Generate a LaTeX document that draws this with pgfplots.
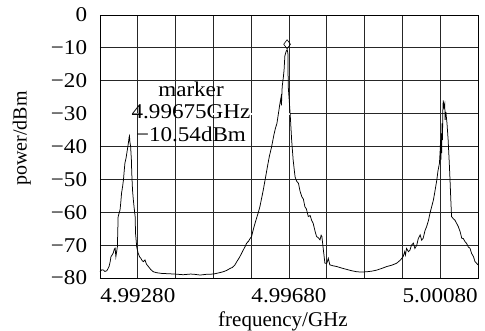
\documentclass[border=0pt]{standalone}
\usepackage{fontspec}
\setmainfont{Liberation Serif}
\newfontfamily\widefont{Liberation Serif}[FakeStretch=1.1]
\usepackage{pgfplots}
\pgfplotsset{compat=1.18}
\begin{document}
\begin{tikzpicture}
\begin{axis}[
  scale only axis, width=378pt, height=263pt,
  at={(0pt,0pt)}, anchor=south west,
  xmin=0, xmax=10, ymin=-80, ymax=0,
  xtick={0,1,2,3,4,5,6,7,8,9,10},
  xticklabels={,4.99280,,,,4.99680,,,,5.00080,},
  ytick={-80,-70,-60,-50,-40,-30,-20,-10,0},
  yticklabels={−80,−70,−60,−50,−40,−30,−20,−10,0},
  major tick length=0pt,
  grid=major, major grid style={black!85, line width=0.8pt},
  axis line style={line width=0.9pt},
  tick label style={font=\widefont\fontsize{21}{25}\selectfont},
  xticklabel style={anchor=base, inner sep=0pt, yshift=-25pt},
  yticklabel style={anchor=east, inner sep=0pt, xshift=-12.7pt},
  xlabel={frequency/GHz}, ylabel={power/dBm},
  xlabel style={at={(axis description cs:0.484,-0.185)}, anchor=base, font=\fontsize{21}{25}\selectfont},
  ylabel style={at={(axis description cs:-0.194,0.531)}, anchor=base, font=\fontsize{20}{24}\selectfont},
]
\draw[white, line width=1.8pt] (axis cs:0.03,-30) -- (axis cs:5.02,-30);
\addplot[black, line width=0.75pt] table[x=x, y=y] {
x y
0.00 -78.1
0.05 -77.5
0.09 -77.6
0.13 -78.0
0.18 -77.8
0.21 -77.2
0.24 -76.5
0.27 -75.0
0.29 -73.5
0.32 -73.0
0.35 -72.4
0.38 -71.2
0.40 -70.9
0.42 -73.5
0.44 -72.0
0.46 -70.5
0.48 -61.3
0.50 -60.5
0.53 -59.3
0.55 -57.0
0.57 -54.2
0.60 -52.0
0.62 -50.2
0.64 -47.5
0.66 -45.0
0.69 -43.5
0.71 -42.0
0.73 -40.5
0.75 -39.0
0.77 -37.2
0.78 -36.8
0.79 -38.5
0.81 -40.0
0.83 -44.0
0.84 -48.0
0.86 -53.2
0.88 -56.0
0.90 -58.3
0.93 -61.3
0.94 -66.4
0.96 -69.0
0.97 -70.5
1.00 -72.0
1.01 -72.5
1.05 -73.6
1.08 -74.0
1.12 -74.8
1.15 -75.0
1.19 -74.5
1.23 -75.8
1.28 -76.5
1.34 -77.4
1.41 -78.1
1.50 -78.4
1.63 -78.6
1.80 -78.7
1.98 -78.8
2.20 -79.0
2.40 -78.8
2.51 -78.9
2.65 -79.1
2.80 -78.9
3.00 -78.8
3.12 -78.5
3.26 -78.1
3.35 -77.7
3.44 -77.1
3.50 -76.8
3.57 -76.0
3.62 -75.0
3.66 -74.3
3.70 -73.5
3.75 -72.4
3.79 -71.5
3.84 -70.4
3.88 -69.4
3.93 -68.8
3.97 -68.0
4.01 -67.4
4.05 -65.5
4.10 -63.4
4.15 -61.5
4.19 -60.0
4.23 -58.3
4.28 -55.5
4.32 -53.2
4.37 -50.0
4.43 -46.1
4.48 -43.0
4.54 -40.1
4.60 -36.5
4.64 -34.5
4.68 -33.0
4.72 -30.0
4.76 -26.9
4.79 -25.0
4.80 -27.5
4.82 -21.8
4.85 -19.0
4.87 -16.7
4.89 -12.5
4.92 -11.2
4.95 -10.54
4.97 -11.5
4.98 -21.8
5.00 -25.0
5.03 -29.9
5.07 -38.0
5.11 -44.1
5.16 -49.2
5.20 -50.5
5.25 -51.2
5.29 -53.5
5.34 -55.3
5.38 -56.0
5.42 -58.3
5.46 -59.0
5.51 -61.3
5.56 -61.0
5.60 -62.5
5.64 -63.4
5.69 -65.8
5.73 -67.4
5.78 -67.8
5.82 -68.4
5.85 -67.0
5.87 -67.4
5.91 -71.5
5.95 -75.5
6.00 -75.5
6.02 -74.8
6.04 -74.0
6.08 -76.0
6.17 -76.3
6.26 -76.5
6.40 -77.0
6.53 -77.4
6.66 -77.8
6.79 -78.1
6.92 -78.2
7.06 -78.1
7.20 -77.9
7.32 -77.6
7.45 -77.1
7.59 -76.5
7.72 -76.1
7.85 -75.5
7.95 -74.5
8.02 -73.5
8.06 -72.0
8.08 -73.0
8.11 -71.0
8.16 -72.0
8.20 -71.5
8.24 -70.0
8.29 -69.4
8.33 -71.0
8.38 -70.0
8.42 -68.0
8.47 -66.9
8.51 -68.5
8.55 -67.9
8.60 -65.5
8.64 -64.4
8.69 -62.5
8.73 -60.3
8.77 -58.5
8.82 -56.3
8.87 -53.0
8.91 -50.2
8.94 -47.5
8.98 -45.1
9.00 -41.0
9.01 -38.0
9.02 -44.0
9.03 -36.0
9.04 -42.0
9.05 -33.0
9.06 -38.0
9.07 -29.0
9.08 -26.0
9.10 -28.0
9.12 -27.0
9.13 -31.9
9.15 -29.5
9.18 -33.0
9.21 -38.0
9.24 -45.0
9.26 -50.2
9.28 -56.0
9.30 -61.3
9.35 -62.0
9.39 -62.4
9.44 -63.5
9.48 -64.4
9.53 -66.0
9.57 -67.9
9.61 -68.0
9.66 -69.0
9.70 -69.5
9.74 -70.5
9.79 -71.0
9.83 -72.5
9.88 -73.5
9.92 -75.0
9.96 -75.5
10.00 -76.0
};
\addplot[only marks, mark=diamond, mark size=4.5pt, mark options={black, line width=0.6pt, fill=white}] coordinates {(4.95,-8.9)};
\node[font=\widefont\fontsize{21}{25}\selectfont, anchor=base, inner sep=0pt] at (axis cs:2.407,-24.85) {marker};
\node[font=\widefont\fontsize{21}{25}\selectfont, anchor=base, inner sep=0pt] at (axis cs:2.407,-31.4) {4.99675GHz};
\node[font=\widefont\fontsize{21}{25}\selectfont, anchor=base, inner sep=0pt] at (axis cs:2.407,-38.5) {−10.54dBm};
\end{axis}
\pgfresetboundingbox
\path[use as bounding box] (-100pt,-53pt) rectangle (385pt,278pt);
\end{tikzpicture}
\end{document}
